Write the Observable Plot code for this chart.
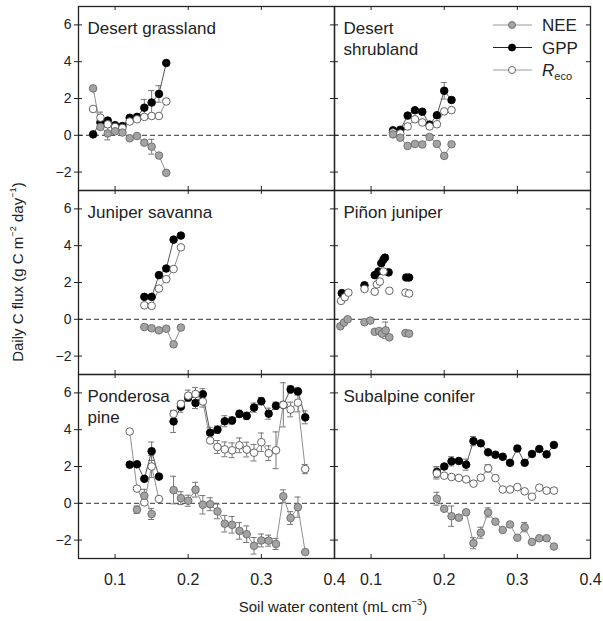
<!DOCTYPE html>
<html>
<head>
<meta charset="utf-8">
<script src="https://cdn.jsdelivr.net/npm/d3@7"></script>
<script src="https://cdn.jsdelivr.net/npm/@observablehq/plot@0.6"></script>
<style>
  body { margin: 0; background: #fff; font-family: "Liberation Sans", Arial, sans-serif; color: #222; }
  #wrap { position: relative; width: 603px; height: 621px; }
  #ylab { position: absolute; left: 17px; top: 272px; transform: translate(-50%, -50%) rotate(-90deg); white-space: nowrap; font-size: 15px; }
  #xlab { position: absolute; left: 333px; top: 606px; transform: translate(-50%, -50%); white-space: nowrap; font-size: 15px; }
  sup { font-size: 0.62em; line-height: 0; position: relative; top: -0.1em; }
  #legend { position: absolute; left: 485px; top: 10px; }
</style>
</head>
<body>
<div id="wrap">
  <div id="plot"></div>
  <div id="ylab">Daily C flux (g C m<sup>−2</sup> day<sup>−1</sup>)</div>
  <div id="xlab">Soil water content (mL cm<sup>−3</sup>)</div>
  <svg id="legend" width="110" height="75"></svg>
</div>
<script>
// ---- axis ticks ----
const xTickVals = [0.1, 0.2, 0.3, 0.4];
const yTickVals = [-2, 0, 2, 4, 6];
const xDomain = [0.05, 0.4];
const yDomain = [-3, 7];

// ---- panel titles ----
const panelNames = ["Desert grassland", "Desert\nshrubland", "Juniper savanna", "Piñon juniper", "Ponderosa\npine", "Subalpine conifer"];
const seriesNames = ["NEE", "GPP", "Reco"];

// ---- Desert grassland ----
const dgX    = [0.07, 0.08, 0.09, 0.10, 0.11, 0.12, 0.13, 0.14, 0.15, 0.16, 0.17];
const dgNEE  = [2.55, 0.45, 0.10, 0.22, 0.15, -0.16, -0.04, -0.40, -0.62, -1.10, -2.04];
const dgGPP  = [0.05, 0.70, 0.80, 0.55, 0.50, 0.95, 1.00, 1.50, 1.78, 2.25, 3.93];
const dgReco = [1.43, 0.96, 0.60, 0.45, 0.40, 0.75, 0.87, 1.00, 1.05, 1.05, 1.84];
const dgErrNEE  = [0, 0, 0.35, 0, 0, 0, 0, 0, 0.40, 0, 0];
const dgErrGPP  = [0, 0, 0, 0, 0, 0, 0, 0.45, 0.65, 0.45, 0];
const dgErrReco = [0, 0.30, 0, 0, 0, 0, 0, 0, 0, 0, 0];

// ---- Desert shrubland ----
const dsX    = [0.13, 0.14, 0.15, 0.16, 0.17, 0.18, 0.19, 0.20, 0.21];
const dsNEE  = [0.05, -0.13, -0.58, -0.47, -0.50, -0.09, -0.47, -1.12, -0.49];
const dsGPP  = [0.27, 0.30, 1.07, 1.36, 1.28, 0.58, 1.09, 2.42, 1.92];
const dsReco = [0.15, 0.10, 0.48, 0.87, 0.70, 0.48, 0.60, 1.30, 1.37];
const dsErrGPP = [0, 0, 0, 0, 0, 0, 0, 0.45, 0];

// ---- Juniper savanna ----
const jsX    = [0.14, 0.15, 0.16, 0.17, 0.18, 0.19];
const jsNEE  = [-0.42, -0.49, -0.60, -0.51, -1.36, -0.45];
const jsGPP  = [1.22, 1.22, 2.40, 2.76, 4.33, 4.55];
const jsReco = [0.76, 0.73, 1.67, 2.18, 2.73, 3.91];

// ---- Piñon juniper (points only) ----
const pjNEEx  = [0.058, 0.063, 0.068, 0.091, 0.099, 0.105, 0.111, 0.115, 0.120, 0.125, 0.147, 0.152];
const pjNEE   = [-0.38, -0.18, 0.00, -0.16, -0.07, -0.68, -0.64, -0.78, -0.60, -0.98, -0.75, -0.78];
const pjGPPx  = [0.060, 0.091, 0.105, 0.110, 0.114, 0.117, 0.119, 0.124, 0.148, 0.152];
const pjGPP   = [1.42, 1.85, 2.40, 2.60, 3.05, 3.25, 3.35, 2.55, 2.27, 2.27];
const pjRecox = [0.059, 0.064, 0.069, 0.091, 0.105, 0.108, 0.112, 0.117, 0.125, 0.147, 0.152];
const pjReco  = [1.00, 1.20, 1.45, 1.65, 1.50, 1.90, 2.05, 2.60, 1.55, 1.45, 1.40];
const pjErrNEE = [0, 0, 0, 0, 0, 0, 0, 0, 0.45, 0, 0, 0];

// ---- Ponderosa pine (null = no measurement / line break) ----
const ppX    = [0.12, 0.13, 0.14, 0.15, 0.16, 0.17, 0.18, 0.19, 0.20, 0.21, 0.22, 0.23, 0.24, 0.25, 0.26, 0.27, 0.28, 0.29, 0.30, 0.31, 0.32, 0.33, 0.34, 0.35, 0.36];
const ppNEE  = [null, -0.35, 0.41, -0.58, null, null, 0.72, 0.28, 0.14, 0.74, -0.08, -0.05, -0.44, -1.11, -1.17, -1.50, -1.68, -2.31, -2.02, -2.03, -2.21, 0.38, -0.80, -0.21, -2.65];
const ppGPP  = [2.10, 2.12, 1.33, 2.83, 1.45, null, 4.45, 5.25, 5.75, 5.45, 5.93, 3.83, 4.00, 4.46, 4.50, 4.86, 4.75, 5.20, 5.55, 4.87, 5.30, 5.35, 6.19, 6.08, 4.67];
const ppReco = [3.90, 0.80, 0.05, 2.00, 0.23, null, 4.86, 5.40, 5.85, 5.94, 5.53, 3.41, 3.06, 2.93, 2.88, 3.15, 2.92, 2.75, 3.32, 2.72, 2.88, 5.35, 5.10, 5.47, 1.86];
const ppErrNEE  = [0, 0.20, 0.35, 0.30, 0, 0, 0.75, 0.35, 0.30, 0.40, 0.50, 0.35, 0.40, 0.45, 0.45, 0.45, 0.45, 0.45, 0.35, 0.30, 0.30, 0.35, 0.35, 0.55, 0];
const ppErrGPP  = [0, 0, 0, 0.50, 0, 0, 0.60, 0.30, 0.20, 0.30, 0.30, 0.30, 0.20, 0.30, 0.20, 0.20, 0.20, 0.25, 0.20, 0.30, 0.20, 1.20, 0.20, 0.20, 0.35];
const ppErrReco = [0, 0, 0, 0.60, 0, 0, 0, 0, 0.30, 0.35, 0.30, 0, 0.35, 0.40, 0.40, 0.40, 0.40, 0.45, 0.50, 0.40, 1.00, 0, 0.40, 0.50, 0.25];

// ---- Subalpine conifer ----
const scX    = [0.19, 0.20, 0.21, 0.22, 0.23, 0.24, 0.25, 0.26, 0.27, 0.28, 0.29, 0.30, 0.31, 0.32, 0.33, 0.34, 0.35];
const scNEE  = [0.25, -0.30, -0.70, -0.78, -0.49, -2.17, -1.60, -0.50, -1.00, -1.45, -1.15, -1.87, -1.30, -2.10, -1.90, -1.90, -2.35];
const scGPP  = [1.70, 2.00, 2.28, 2.30, 2.10, 3.38, 3.26, 2.77, 2.64, 2.53, 2.20, 2.98, 2.20, 2.68, 2.95, 2.66, 3.17];
const scReco = [1.62, 1.50, 1.43, 1.38, 1.30, 1.07, 1.39, 1.90, 1.37, 0.75, 0.75, 0.88, 0.65, 0.36, 0.85, 0.69, 0.69];
const scErrNEE  = [0.35, 0, 0.55, 0, 0, 0.30, 0.30, 0.25, 0, 0, 0, 0, 0.25, 0, 0, 0, 0];
const scErrGPP  = [0.30, 0, 0.25, 0, 0.30, 0.25, 0, 0, 0, 0, 0, 0, 0, 0, 0, 0, 0];
const scErrReco = [0.30, 0, 0, 0, 0, 0, 0, 0.20, 0, 0, 0, 0, 0, 0, 0, 0, 0];

// ---- styles ----
const dotFill   = {NEE: "#a3a3a3", GPP: "#000000", Reco: "#ffffff"};
const dotStroke = {NEE: "#6a6a6a", GPP: "#000000", Reco: "#555555"};
const lineColor = {NEE: "#8f8f8f", GPP: "#555555", Reco: "#8f8f8f"};

// ---- build tidy rows ----
function rows(panel, series, xs, ys, es, connected = true) {
  return xs.map((x, i) => ({
    panel, fx: panel % 2, fy: Math.floor(panel / 2), series, connected,
    x, y: ys[i] == null ? NaN : ys[i], e: es ? es[i] : 0
  }));
}
const data = [
  ...rows(0, "NEE", dgX, dgNEE, dgErrNEE), ...rows(0, "GPP", dgX, dgGPP, dgErrGPP), ...rows(0, "Reco", dgX, dgReco, dgErrReco),
  ...rows(1, "NEE", dsX, dsNEE), ...rows(1, "GPP", dsX, dsGPP, dsErrGPP), ...rows(1, "Reco", dsX, dsReco),
  ...rows(2, "NEE", jsX, jsNEE), ...rows(2, "GPP", jsX, jsGPP), ...rows(2, "Reco", jsX, jsReco),
  ...rows(3, "NEE", pjNEEx, pjNEE, pjErrNEE, false), ...rows(3, "GPP", pjGPPx, pjGPP, null, false), ...rows(3, "Reco", pjRecox, pjReco, null, false),
  ...rows(4, "NEE", ppX, ppNEE, ppErrNEE), ...rows(4, "GPP", ppX, ppGPP, ppErrGPP), ...rows(4, "Reco", ppX, ppReco, ppErrReco),
  ...rows(5, "NEE", scX, scNEE, scErrNEE), ...rows(5, "GPP", scX, scGPP, scErrGPP), ...rows(5, "Reco", scX, scReco, scErrReco)
];
const titles = panelNames.map((t, i) => ({text: t, fx: i % 2, fy: Math.floor(i / 2)}));

// layout
const W = 603, H = 621, mL = 77, mR = 13, mT = 5, mB = 62;
const facetW = (W - mL - mR) / 2, facetH = (H - mT - mB) / 3;
const tickPx = 4;
const txu = tickPx * (xDomain[1] - xDomain[0]) / facetW;
const tyu = tickPx * (yDomain[1] - yDomain[0]) / facetH;
const capHalf = 3 * (xDomain[1] - xDomain[0]) / facetW;

const marks = [
  Plot.ruleY([0], {stroke: "#333", strokeWidth: 1, strokeDasharray: "5,3"}),
  // inward ticks on all sides of each panel
  Plot.ruleX(xTickVals.filter(v => v < xDomain[1]), {y1: yDomain[0], y2: yDomain[0] + tyu, stroke: "#222"}),
  Plot.ruleX(xTickVals.filter(v => v < xDomain[1]), {y1: yDomain[1], y2: yDomain[1] - tyu, stroke: "#222"}),
  Plot.ruleY(yTickVals, {x1: xDomain[0], x2: xDomain[0] + txu, stroke: "#222"}),
  Plot.ruleY(yTickVals, {x1: xDomain[1], x2: xDomain[1] - txu, stroke: "#222"})
];

const errRows = data.filter(d => d.e > 0 && !isNaN(d.y));
marks.push(
  Plot.ruleX(errRows, {fx: "fx", fy: "fy", x: "x", y1: d => d.y - d.e, y2: d => d.y + d.e, stroke: "#777", strokeWidth: 1}),
  Plot.ruleY(errRows, {fx: "fx", fy: "fy", y: d => d.y + d.e, x1: d => d.x - capHalf, x2: d => d.x + capHalf, stroke: "#777", strokeWidth: 1}),
  Plot.ruleY(errRows, {fx: "fx", fy: "fy", y: d => d.y - d.e, x1: d => d.x - capHalf, x2: d => d.x + capHalf, stroke: "#777", strokeWidth: 1})
);

for (const s of ["GPP", "Reco", "NEE"]) {
  const sd = data.filter(d => d.series === s);
  marks.push(Plot.line(sd.filter(d => d.connected), {fx: "fx", fy: "fy", x: "x", y: "y", z: "panel", stroke: lineColor[s], strokeWidth: 1}));
}
for (const s of ["GPP", "Reco", "NEE"]) {
  const sd = data.filter(d => d.series === s && !isNaN(d.y));
  marks.push(Plot.dot(sd, {fx: "fx", fy: "fy", x: "x", y: "y", r: 3.8, fill: dotFill[s], stroke: dotStroke[s], strokeWidth: 0.9}));
}

marks.push(
  Plot.text(titles, {fx: "fx", fy: "fy", text: "text", frameAnchor: "top-left", textAnchor: "start", lineAnchor: "top", dx: 9, dy: 12, fontSize: 17, lineHeight: 1.25, fill: "#222"}),
  Plot.frame({stroke: "#222", strokeWidth: 1.3}),
  Plot.axisX({ticks: xTickVals, tickFormat: d3.format(".1f"), anchor: "bottom", facetAnchor: "bottom", tickSize: 0, tickPadding: 15, fontSize: 16, label: null}),
  Plot.axisY({ticks: yTickVals, anchor: "left", facetAnchor: "left", tickSize: 4, tickPadding: 3, fontSize: 14, label: null})
);

const chart = Plot.plot({
  width: W, height: H,
  marginLeft: mL, marginRight: mR, marginTop: mT, marginBottom: mB,
  style: {fontFamily: "Liberation Sans, Arial, sans-serif", color: "#222", background: "white"},
  x: {domain: xDomain},
  y: {domain: yDomain},
  fx: {domain: [0, 1], axis: null, padding: 0},
  fy: {domain: [0, 1, 2], axis: null, padding: 0},
  marks
});
document.getElementById("plot").appendChild(chart);

// ---- legend (inside Desert shrubland panel) ----
const legendRows = seriesNames;
const lg = d3.select("#legend");
legendRows.forEach((s, i) => {
  const cy = 15 + i * 22.5;
  lg.append("line").attr("x1", 8).attr("x2", 47).attr("y1", cy).attr("y2", cy).attr("stroke", s === "GPP" ? "#222" : "#999").attr("stroke-width", 1);
  lg.append("circle").attr("cx", 27).attr("cy", cy).attr("r", 3.5).attr("fill", dotFill[s]).attr("stroke", dotStroke[s]).attr("stroke-width", 0.9);
  const t = lg.append("text").attr("x", 57).attr("y", cy + 6).attr("font-size", 17).attr("fill", "#222")
    .attr("font-family", "Liberation Sans, Arial, sans-serif");
  if (s === "Reco") {
    t.append("tspan").attr("font-style", "italic").text("R");
    t.append("tspan").attr("font-size", 11).attr("dy", 4).text("eco");
  } else {
    t.text(s);
  }
});
</script>
</body>
</html>
